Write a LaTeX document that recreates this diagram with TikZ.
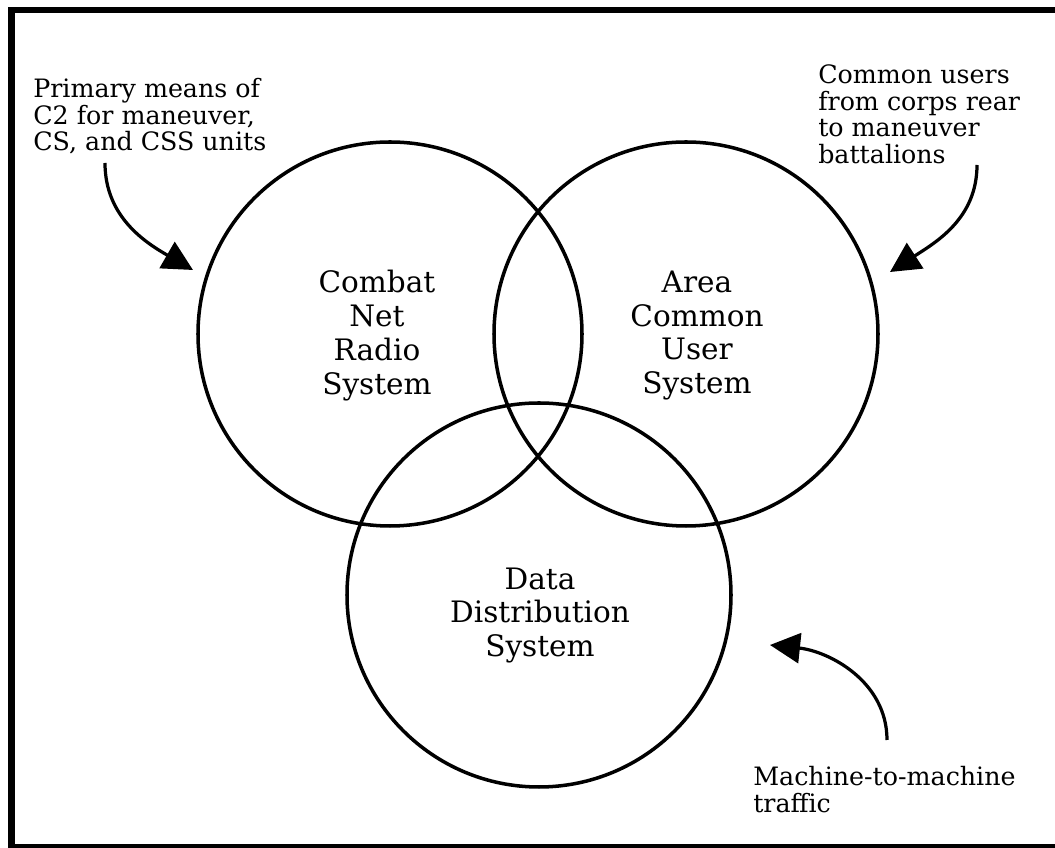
\documentclass[tikz,border=0pt]{standalone}
\usepackage{fontspec}
\setmainfont{DejaVu Serif}
\usetikzlibrary{arrows.meta}

\begin{document}
\begin{tikzpicture}[x=0.025cm,y=0.025cm,
		ring/.style={line width=2.5pt},
		system/.style={align=center,inner sep=0pt,font=\fontsize{21}{24}\selectfont},
		remark/.style={align=left,anchor=north west,inner sep=0pt,font=\fontsize{18}{19}\selectfont},
		pointer/.style={line width=2.3pt,-{Triangle[length=7.5mm,width=7.5mm]}}]
				\useasboundingbox (0,0) rectangle (1055,848);
				
				% frame (open on the right)
				\draw[line width=4.5pt] (1055,838) -- (11.5,838) -- (11.5,0.5) -- (1055,0.5);
				
				% the three systems
				\draw[ring] (390,514) circle (192);
				\draw[ring] (686,514) circle (192);
				\draw[ring] (539,253) circle (192);
				
				\node[system] (cnr) at (377,512.5) {Combat\\Net\\Radio\\System};
				\node[system] (acu) at (697,512.5) {Area\\Common\\User\\System};
				\node[system] (dds) at (540,232.5) {Data\\Distribution\\System};
				
				% notes and pointers
				\node[remark] (cnrnote) at (33,770) {Primary means of\\C2 for maneuver,\\CS, and CSS units};
				\node[remark] (acunote) at (818,783.5) {Common users\\from corps rear\\to maneuver\\battalions};
				\node[remark] (ddsnote) at (753,82) {Machine-to-machine\\traffic};
				
				\coordinate (cnrfrom) at (105,685);
				\coordinate (cnrto) at (193,578);
				\coordinate (acufrom) at (977,683);
				\coordinate (acuto) at (890,576);
				\coordinate (ddsfrom) at (887,108);
				\coordinate (ddsto) at (770,203);
				
				\draw[pointer] (cnrfrom) to[out=-90,in=150] (cnrto);
				\draw[pointer] (acufrom) to[out=-90,in=33] (acuto);
				\draw[pointer] (ddsfrom) to[out=90,in=-6] (ddsto);
			\end{tikzpicture}
\end{document}
